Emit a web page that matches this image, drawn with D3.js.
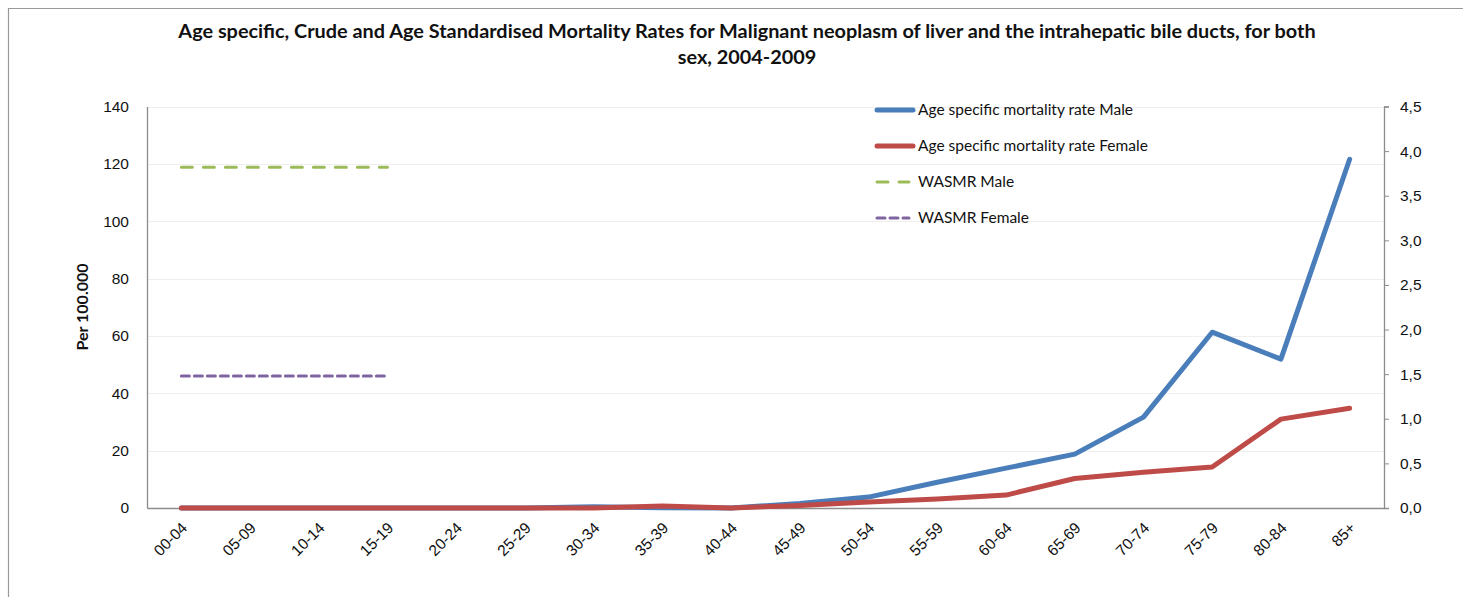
<!DOCTYPE html>
<html>
<head>
<meta charset="utf-8">
<script src="https://cdn.jsdelivr.net/npm/d3@7"></script>
<style>
  body { margin: 0; background: #fff; }
  svg { display: block; font-family: Lato, "Open Sans", "Liberation Sans", sans-serif; }
</style>
</head>
<body>
<svg id="chart" width="1463" height="597"></svg>
<script>
// ---- data ----
const categories = ["00-04","05-09","10-14","15-19","20-24","25-29","30-34","35-39","40-44","45-49","50-54","55-59","60-64","65-69","70-74","75-79","80-84","85+"];
const maleRates   = [0, 0, 0, 0, 0, 0, 0.4, 0.1, 0, 1.6, 3.8, 9.0, 13.9, 18.8, 31.7, 61.3, 51.9, 121.6];
const femaleRates = [0, 0, 0, 0, 0, 0, 0, 0.7, 0, 0.9, 2.1, 3.1, 4.5, 10.3, 12.5, 14.3, 31.0, 34.8];
const wasmrCategories = ["00-04","05-09","10-14","15-19"];
const wasmrMale   = [3.82, 3.82, 3.82, 3.82];
const wasmrFemale = [1.48, 1.48, 1.48, 1.48];
const leftTicks  = [0, 20, 40, 60, 80, 100, 120, 140];
const rightTicks = [0, 0.5, 1, 1.5, 2, 2.5, 3, 3.5, 4, 4.5];
const titleLines = ["Age specific, Crude and Age Standardised Mortality Rates for Malignant neoplasm of liver and the intrahepatic bile ducts, for both", "sex, 2004-2009"];
const legendLabels = ["Age specific mortality rate Male", "Age specific mortality rate Female", "WASMR Male", "WASMR Female"];

// ---- layout ----
const svg = d3.select("#chart");
const L = 147, R = 1384, T = 106.5, B = 508;
const colors = { male: "#4a7ebb", female: "#be4b48", wm: "#9bbb59", wf: "#8064a2" };

// outer border
svg.append("path").attr("d", "M8.5,597 V8.5 H1463").attr("fill", "none").attr("stroke", "#9a9a9a").attr("stroke-width", 1.2);

const x = d3.scaleBand().domain(categories).range([L, R]);
const yL = d3.scaleLinear().domain([0, 140]).range([B, T]);
const yR = d3.scaleLinear().domain([0, 4.5]).range([B, T]);
const cx = c => x(c) + x.bandwidth() / 2;

// gridlines
svg.append("g").selectAll("line").data(leftTicks.filter(d => d > 0)).join("line")
  .attr("x1", L).attr("x2", R).attr("y1", d => Math.round(yL(d)) + 0.5).attr("y2", d => Math.round(yL(d)) + 0.5)
  .attr("stroke", "#efefef").attr("stroke-width", 1.2);

// left axis
const gL = svg.append("g").attr("transform", `translate(${L},0)`)
  .call(d3.axisLeft(yL).tickValues(leftTicks).tickSize(0).tickPadding(18).tickFormat(d3.format("d")));
gL.select(".domain").attr("stroke", "#8c8c8c").attr("stroke-width", 1.3);
gL.selectAll("text").attr("font-size", 15.5).attr("fill", "#111");

// right axis
const gR = svg.append("g").attr("transform", `translate(${R},0)`)
  .call(d3.axisRight(yR).tickValues(rightTicks).tickSize(5).tickPadding(11).tickFormat(d => d3.format(".1f")(d).replace(".", ",")));
gR.select(".domain").attr("stroke", "#8c8c8c").attr("stroke-width", 1.3);
gR.selectAll(".tick line").attr("stroke", "#8c8c8c");
gR.selectAll("text").attr("font-size", 15.5).attr("fill", "#111");

// bottom axis
const gB = svg.append("g").attr("transform", `translate(0,${B})`)
  .call(d3.axisBottom(x).tickSize(0).tickSizeOuter(0));
gB.select(".domain").attr("stroke", "#8c8c8c").attr("stroke-width", 1.3);
gB.selectAll("text")
  .attr("font-size", 15.5).attr("fill", "#111")
  .attr("text-anchor", "end").attr("dy", "0.35em")
  .attr("transform", "translate(3,17) rotate(-45)");
gB.selectAll(".tick text").attr("y", 0).attr("x", 0);

// y label
svg.append("text").attr("transform", "translate(88,307) rotate(-90)")
  .attr("text-anchor", "middle").attr("font-size", 16).attr("font-weight", "bold").attr("fill", "#111").text("Per 100.000");

// lines
const lineL = d3.line().x((d, i) => cx(categories[i])).y(d => yL(d));
svg.append("path").datum(maleRates).attr("d", lineL).attr("fill", "none")
  .attr("stroke", colors.male).attr("stroke-width", 5).attr("stroke-linecap", "round").attr("stroke-linejoin", "round");
svg.append("path").datum(femaleRates).attr("d", lineL).attr("fill", "none")
  .attr("stroke", colors.female).attr("stroke-width", 5).attr("stroke-linecap", "round").attr("stroke-linejoin", "round");

const lineR = d3.line().x((d, i) => cx(wasmrCategories[i])).y(d => yR(d));
svg.append("path").datum(wasmrMale).attr("d", lineR).attr("fill", "none")
  .attr("stroke", colors.wm).attr("stroke-width", 3).attr("stroke-dasharray", "11,11").attr("stroke-linecap", "round");
svg.append("path").datum(wasmrFemale).attr("d", lineR).attr("fill", "none")
  .attr("stroke", colors.wf).attr("stroke-width", 3).attr("stroke-dasharray", "8,5").attr("stroke-linecap", "round");

// legend
const legendY = [110, 146, 182, 218];
const legendStyle = [
  { c: colors.male, w: 5, dash: null },
  { c: colors.female, w: 5, dash: null },
  { c: colors.wm, w: 3, dash: "11,11" },
  { c: colors.wf, w: 3, dash: "8,5" }
];
const lg = svg.append("g");
legendLabels.forEach((lab, i) => {
  const s = legendStyle[i];
  lg.append("line").attr("x1", 877).attr("x2", i < 2 ? 913 : 909).attr("y1", legendY[i]).attr("y2", legendY[i])
    .attr("stroke", s.c).attr("stroke-width", s.w).attr("stroke-linecap", "round")
    .attr("stroke-dasharray", s.dash);
  const t = lg.append("text").attr("x", 918).attr("y", legendY[i]).attr("dy", "0.35em")
    .attr("font-size", 15.5).attr("fill", "#111").text(lab);
});

// title
const t1 = svg.append("text").attr("x", 747).attr("y", 38).attr("text-anchor", "middle")
  .attr("font-weight", "bold").attr("font-size", 17).attr("fill", "#111").text(titleLines[0]);
const t2 = svg.append("text").attr("x", 747).attr("y", 64).attr("text-anchor", "middle")
  .attr("font-weight", "bold").attr("font-size", 17).attr("fill", "#111").text(titleLines[1]);
// fit title width to reference (~1138px)
const w1 = t1.node().getComputedTextLength();
const fs = 17 * 1138 / w1;
t1.attr("font-size", fs); t2.attr("font-size", fs);
</script>
</body>
</html>
